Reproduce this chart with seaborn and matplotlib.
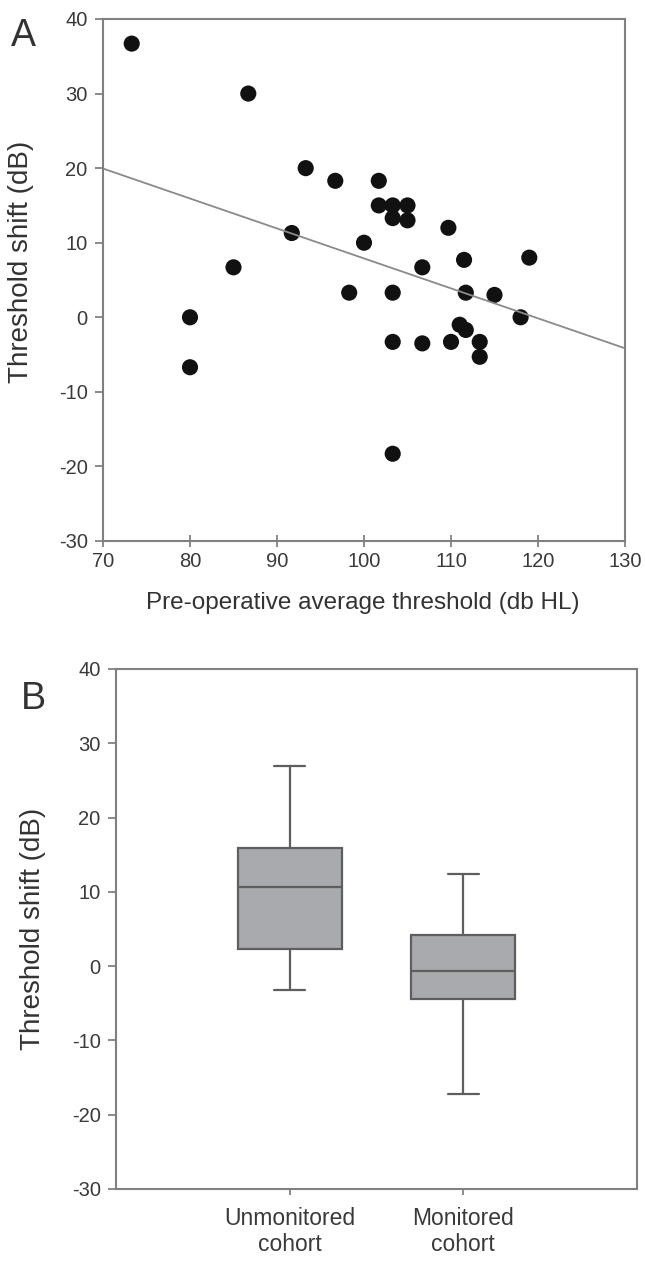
import numpy as np
import pandas as pd
import matplotlib
matplotlib.use("Agg")
import matplotlib.pyplot as plt
import seaborn as sns

# panel A: pre-operative threshold vs threshold shift
pre_threshold = [73.3, 86.7, 80.0, 80.0, 85.0, 91.7, 93.3, 96.7, 98.3, 100.0,
                 101.7, 101.7, 103.3, 103.3, 105.0, 105.0, 103.3, 103.3, 103.3, 106.7,
                 106.7, 109.7, 110.0, 111.5, 111.0, 111.7, 111.7, 113.3, 113.3, 115.0,
                 118.0, 119.0]
threshold_shift = [36.7, 30.0, 0.0, -6.7, 6.7, 11.3, 20.0, 18.3, 3.3, 10.0,
                   18.3, 15.0, 15.0, 13.3, 15.0, 13.0, 3.3, -3.3, -18.3, 6.7,
                   -3.5, 12.0, -3.3, 7.7, -1.0, -1.7, 3.3, -3.3, -5.3, 3.0,
                   0.0, 8.0]

# panel B: five-number summaries (min, q1, median, q3, max)
cohorts = ["Unmonitored\ncohort", "Monitored\ncohort"]
unmonitored_summary = [-3.2, 2.3, 10.7, 15.9, 27.0]
monitored_summary = [-17.2, -4.4, -0.7, 4.2, 12.4]

y_ticks = [40, 30, 20, 10, 0, -10, -20, -30]
x_ticks = [70, 80, 90, 100, 110, 120, 130]

sns.set_theme(style="white")
plt.rcParams['font.family'] = ['Liberation Sans', 'DejaVu Sans']
plt.rcParams['axes.unicode_minus'] = False
plt.rcParams['text.color'] = '#333333'
plt.rcParams['axes.labelcolor'] = '#333333'
plt.rcParams['xtick.color'] = '#777777'
plt.rcParams['ytick.color'] = '#777777'
plt.rcParams['xtick.labelcolor'] = '#3a3a3a'
plt.rcParams['ytick.labelcolor'] = '#3a3a3a'

spine_col = '#808080'
tick_fs = 14.5
cat_fs = 16.5
xlabel_fs = 17.5
ylabel_fs = 20

fig = plt.figure(figsize=(6.45, 12.61), dpi=100)
ax1 = fig.add_axes([103/645, 1-541/1261, 522/645, 522/1261])
ax2 = fig.add_axes([116/645, 1-1189/1261, 521/645, 520/1261])

df_a = pd.DataFrame({'pre': pre_threshold, 'shift': threshold_shift})
ax1.set_xlim(70, 130)
ax1.set_ylim(-30, 40)
sns.regplot(data=df_a, x='pre', y='shift', ax=ax1, ci=None, truncate=False,
            scatter_kws=dict(s=135, color='#111111', edgecolor='none', alpha=1),
            line_kws=dict(color='#8a8a8a', lw=1.3))
ax1.set_xlim(70, 130)
ax1.set_ylim(-30, 40)
ax1.set_xticks(x_ticks)
ax1.set_yticks(y_ticks)
ax1.set_xlabel('Pre-operative average threshold (db HL)', fontsize=xlabel_fs)
ax1.set_ylabel('Threshold shift (dB)', fontsize=ylabel_fs)
ax1.xaxis.set_label_coords(0.498, -0.098)
ax1.yaxis.set_label_coords(-0.132, 0.535)
ax1.tick_params(axis='x', direction='inout', length=8, width=1.2, labelsize=tick_fs, pad=4)
ax1.tick_params(axis='y', direction='out', length=6, width=1.2, labelsize=tick_fs, pad=5)
ax1.tick_params(left=True, bottom=True)

df_b = pd.DataFrame({
    'cohort': [cohorts[0]] * len(unmonitored_summary) + [cohorts[1]] * len(monitored_summary),
    'shift': unmonitored_summary + monitored_summary,
})
sns.boxplot(data=df_b, x='cohort', y='shift', ax=ax2, order=cohorts, whis=(0, 100),
            width=0.6, color='#a9aaae', saturation=1, linecolor='#5e5e5e',
            linewidth=1.6, capwidths=0.18)
ax2.set_xlim(-1, 2)
ax2.set_ylim(-30, 40)
ax2.set_yticks(y_ticks)
ax2.set_xlabel('')
ax2.set_ylabel('Threshold shift (dB)', fontsize=ylabel_fs)
ax2.yaxis.set_label_coords(-0.134, 0.5)
ax2.tick_params(axis='x', direction='out', length=4, width=1.2, labelsize=cat_fs, pad=9)
ax2.tick_params(axis='y', direction='out', length=6, width=1.2, labelsize=tick_fs, pad=5)
ax2.tick_params(left=True, bottom=True)
for lbl in ax2.get_xticklabels():
    lbl.set_linespacing(1.15)

for ax in (ax1, ax2):
    for sp in ax.spines.values():
        sp.set_visible(True)
        sp.set_color(spine_col)
        sp.set_linewidth(1.5)

fig.text(11/645, 1-36/1261, 'A', fontsize=27, va='center', ha='left', color='#333333')
fig.text(21/645, 1-699/1261, 'B', fontsize=27, va='center', ha='left', color='#333333')

fig.savefig('out.png', dpi=100)
